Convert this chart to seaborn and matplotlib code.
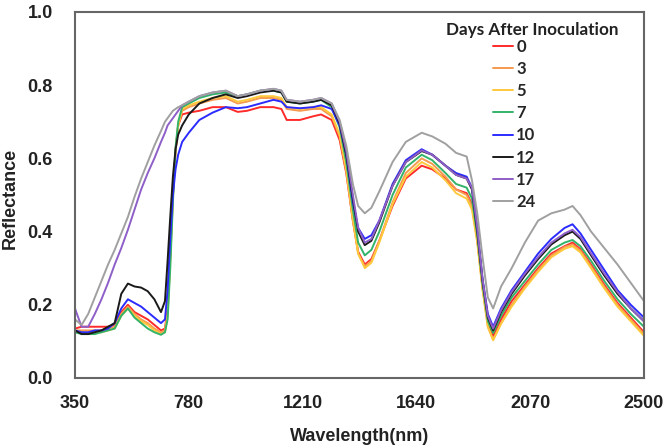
import matplotlib
matplotlib.use('Agg')
import matplotlib.pyplot as plt
import pandas as pd
import numpy as np
import seaborn as sns

# wavelength grid (nm)
wavelength = [350, 375, 400, 425, 450, 475, 500, 525, 550, 575,
              600, 625, 650, 675, 690, 700, 710, 720, 730, 740, 755,
              780, 820, 870, 920, 965, 1000, 1050, 1100, 1130, 1150,
              1200, 1250, 1280, 1320, 1350, 1375, 1400, 1420, 1445, 1470,
              1500, 1550, 1600, 1660, 1700, 1750, 1790, 1830, 1850, 1870,
              1890, 1910, 1930, 1960, 2000, 2050, 2100, 2150, 2200, 2230,
              2260, 2300, 2350, 2400, 2450, 2500]

day_0 = [0.135, 0.14, 0.14, 0.14, 0.14, 0.14, 0.145, 0.18, 0.20, 0.18,
         0.17, 0.16, 0.145, 0.13, 0.135, 0.19, 0.34, 0.50, 0.62, 0.69, 0.72,
         0.725, 0.73, 0.74, 0.74, 0.727, 0.73, 0.74, 0.74, 0.735, 0.705,
         0.705, 0.715, 0.72, 0.705, 0.65, 0.56, 0.43, 0.345, 0.31, 0.325,
         0.375, 0.47, 0.545, 0.58, 0.57, 0.545, 0.515, 0.505, 0.475, 0.38,
         0.25, 0.15, 0.115, 0.16, 0.21, 0.255, 0.30, 0.34, 0.36, 0.37,
         0.352, 0.31, 0.255, 0.205, 0.165, 0.125]

day_3 = [0.13, 0.13, 0.13, 0.13, 0.13, 0.135, 0.14, 0.175, 0.195, 0.175,
         0.16, 0.15, 0.135, 0.125, 0.13, 0.18, 0.33, 0.50, 0.62, 0.69, 0.73,
         0.74, 0.75, 0.76, 0.765, 0.75, 0.755, 0.765, 0.765, 0.76, 0.735,
         0.73, 0.735, 0.735, 0.715, 0.66, 0.565, 0.43, 0.34, 0.305, 0.32,
         0.375, 0.48, 0.56, 0.60, 0.585, 0.55, 0.515, 0.50, 0.47, 0.375,
         0.245, 0.14, 0.105, 0.15, 0.20, 0.25, 0.295, 0.335, 0.358, 0.365,
         0.348, 0.305, 0.25, 0.20, 0.16, 0.12]

day_5 = [0.125, 0.125, 0.125, 0.125, 0.125, 0.13, 0.135, 0.17, 0.19, 0.17,
         0.155, 0.145, 0.13, 0.12, 0.125, 0.17, 0.32, 0.49, 0.62, 0.69, 0.735,
         0.745, 0.755, 0.765, 0.77, 0.755, 0.76, 0.77, 0.77, 0.765, 0.74,
         0.735, 0.74, 0.74, 0.72, 0.665, 0.57, 0.435, 0.34, 0.30, 0.315,
         0.37, 0.475, 0.55, 0.59, 0.575, 0.54, 0.505, 0.49, 0.46, 0.37,
         0.24, 0.14, 0.103, 0.148, 0.195, 0.245, 0.29, 0.33, 0.353, 0.36,
         0.343, 0.30, 0.245, 0.195, 0.155, 0.115]

day_7 = [0.125, 0.12, 0.12, 0.12, 0.125, 0.13, 0.135, 0.17, 0.19, 0.165,
         0.15, 0.135, 0.125, 0.118, 0.125, 0.16, 0.30, 0.48, 0.63, 0.70, 0.74,
         0.75, 0.765, 0.775, 0.78, 0.77, 0.775, 0.785, 0.785, 0.78, 0.755,
         0.75, 0.755, 0.76, 0.74, 0.685, 0.59, 0.46, 0.37, 0.335, 0.35,
         0.40, 0.50, 0.575, 0.61, 0.595, 0.56, 0.53, 0.52, 0.49, 0.39,
         0.255, 0.155, 0.123, 0.17, 0.22, 0.265, 0.31, 0.35, 0.37, 0.377,
         0.36, 0.32, 0.265, 0.215, 0.175, 0.14]

day_10 = [0.13, 0.125, 0.125, 0.13, 0.13, 0.135, 0.15, 0.19, 0.215, 0.205,
          0.195, 0.18, 0.165, 0.15, 0.16, 0.24, 0.38, 0.50, 0.57, 0.61, 0.645,
          0.67, 0.705, 0.725, 0.74, 0.737, 0.74, 0.75, 0.76, 0.755, 0.74,
          0.737, 0.74, 0.745, 0.735, 0.69, 0.61, 0.48, 0.41, 0.38, 0.39,
          0.43, 0.53, 0.595, 0.625, 0.61, 0.58, 0.56, 0.55, 0.52, 0.41,
          0.27, 0.175, 0.14, 0.19, 0.24, 0.29, 0.34, 0.38, 0.41, 0.42,
          0.395, 0.35, 0.295, 0.24, 0.20, 0.165]

day_12 = [0.13, 0.12, 0.12, 0.125, 0.13, 0.14, 0.15, 0.23, 0.258, 0.25,
          0.247, 0.237, 0.215, 0.18, 0.21, 0.32, 0.44, 0.55, 0.625, 0.665, 0.69,
          0.72, 0.75, 0.765, 0.775, 0.765, 0.77, 0.78, 0.785, 0.78, 0.755,
          0.75, 0.755, 0.76, 0.745, 0.695, 0.61, 0.49, 0.40, 0.363, 0.375,
          0.425, 0.525, 0.59, 0.62, 0.61, 0.58, 0.555, 0.545, 0.515, 0.40,
          0.265, 0.165, 0.13, 0.18, 0.23, 0.28, 0.325, 0.365, 0.39, 0.40,
          0.38, 0.335, 0.28, 0.23, 0.19, 0.155]

day_17 = [0.19, 0.14, 0.14, 0.175, 0.215, 0.26, 0.31, 0.355, 0.405, 0.46,
          0.515, 0.56, 0.60, 0.645, 0.67, 0.69, 0.70, 0.71, 0.72, 0.73, 0.745,
          0.755, 0.77, 0.78, 0.785, 0.77, 0.775, 0.785, 0.79, 0.785, 0.76,
          0.755, 0.76, 0.765, 0.75, 0.70, 0.62, 0.50, 0.41, 0.37, 0.38,
          0.43, 0.525, 0.59, 0.622, 0.61, 0.58, 0.555, 0.545, 0.52, 0.41,
          0.27, 0.17, 0.135, 0.185, 0.235, 0.285, 0.33, 0.37, 0.395, 0.405,
          0.385, 0.34, 0.285, 0.235, 0.19, 0.155]

day_24 = [0.16, 0.145, 0.175, 0.22, 0.265, 0.31, 0.35, 0.395, 0.44, 0.495,
          0.545, 0.59, 0.635, 0.675, 0.70, 0.71, 0.72, 0.73, 0.735, 0.74, 0.745,
          0.755, 0.77, 0.78, 0.785, 0.77, 0.775, 0.785, 0.79, 0.785, 0.76,
          0.755, 0.76, 0.765, 0.75, 0.705, 0.635, 0.53, 0.47, 0.45, 0.465,
          0.51, 0.59, 0.645, 0.67, 0.66, 0.64, 0.615, 0.605, 0.54, 0.45,
          0.33, 0.22, 0.19, 0.25, 0.30, 0.37, 0.43, 0.45, 0.46, 0.47,
          0.445, 0.40, 0.355, 0.31, 0.26, 0.21]

day_labels = ['0', '3', '5', '7', '10', '12', '17', '24']
series = [day_0, day_3, day_5, day_7, day_10, day_12, day_17, day_24]
colors = ['#ff2a2a', '#f59a4e', '#ffc93c', '#33b36a', '#2b2bff', '#1a1a1a', '#8e5fc8', '#a0a0a0']

x_ticks = [350, 780, 1210, 1640, 2070, 2500]
y_ticks = [0.0, 0.2, 0.4, 0.6, 0.8, 1.0]

rows = []
for lab, vals in zip(day_labels, series):
    for w, v in zip(wavelength, vals):
        rows.append({'Wavelength': w, 'Reflectance': v, 'Day': lab})
df = pd.DataFrame(rows)

sns.set_style('white')
plt.rcParams['font.family'] = ['Liberation Sans', 'DejaVu Sans']

fig = plt.figure(figsize=(6.67, 4.47), dpi=100)
ax = fig.add_axes([0.1124, 0.1544, 0.8531, 0.8188])

sns.lineplot(data=df, x='Wavelength', y='Reflectance', hue='Day', hue_order=day_labels,
             palette=dict(zip(day_labels, colors)), estimator=None, lw=1.4, ax=ax)

handles, labels = ax.get_legend_handles_labels()
ax.get_legend().remove()
ax.legend(handles, labels, loc='upper left', bbox_to_anchor=(0.7346, 0.927),
          frameon=False, borderpad=0, borderaxespad=0,
          handlelength=1.2, handletextpad=0.2, labelspacing=0.37,
          prop={'family': 'Lato', 'weight': 'bold', 'size': 12})
ax.text(0.803, 0.952, 'Days After Inoculation', transform=ax.transAxes,
        ha='center', va='center', fontfamily='Lato', fontweight='bold',
        fontsize=12.3, color='#222222')

ax.set_xlim(350, 2500)
ax.set_ylim(0, 1.0)
ax.set_xticks(x_ticks)
ax.set_yticks(y_ticks)
ax.set_yticklabels([f'{t:.1f}' for t in y_ticks])
ax.tick_params(length=0, labelsize=13, colors='#222222')
ax.tick_params(axis='y', pad=16)
ax.tick_params(axis='x', pad=12)
for lbl in ax.get_xticklabels() + ax.get_yticklabels():
    lbl.set_fontweight('bold')

ax.set_xlabel('Wavelength(nm)', fontsize=13, fontweight='bold', color='#222222', va='center')
ax.set_ylabel('Reflectance', fontsize=13, fontweight='bold', color='#222222', va='center')
ax.xaxis.set_label_coords(0.5, -0.161)
ax.yaxis.set_label_coords(-0.114, 0.49)

for s in ax.spines.values():
    s.set_color('#666666')
    s.set_linewidth(1.5)

fig.savefig('out.png', dpi=100)
